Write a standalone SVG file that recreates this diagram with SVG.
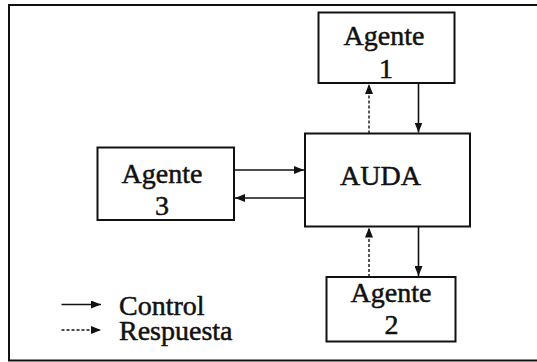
<svg xmlns="http://www.w3.org/2000/svg" width="537" height="362" viewBox="0 0 537 362">
  <style>
    .frame { fill: none; stroke: #111; stroke-width: 2; }
    .box { fill: #fff; stroke: #111; stroke-width: 2; }
    .lbl { font-family: "Liberation Serif", "Times New Roman", serif; font-size: 28px; fill: #111; stroke: #111; stroke-width: 0.5; text-anchor: middle; }
    .leg { font-family: "Liberation Serif", "Times New Roman", serif; font-size: 28px; fill: #111; stroke: #111; stroke-width: 0.5; }
    .ctl { stroke: #111; stroke-width: 1.6; fill: none; marker-end: url(#head); }
    .rsp { stroke: #111; stroke-width: 1.4; fill: none; stroke-dasharray: 3 2; marker-end: url(#head); }
  </style>
  <defs>
    <marker id="head" viewBox="0 0 10 8" refX="10" refY="4" markerWidth="10" markerHeight="8" markerUnits="userSpaceOnUse" orient="auto">
      <path d="M0,0 L10,4 L0,8 Z" fill="#111"/>
    </marker>
  </defs>
  <rect width="537" height="362" fill="#fff"/>

  <!-- outer frame (open on the right) -->
  <path class="frame" d="M537,5 H9 V360.5 H537"/>

  <g id="agente1">
    <rect class="box" x="318.5" y="12.5" width="136" height="70.5"/>
    <text class="lbl" x="384" y="45">Agente</text>
    <text class="lbl" x="386" y="78">1</text>
  </g>

  <g id="auda">
    <rect class="box" x="305" y="133.5" width="165" height="93"/>
    <text class="lbl" x="380.5" y="184.5">AUDA</text>
  </g>

  <g id="agente3">
    <rect class="box" x="97.5" y="147.5" width="136.5" height="72.5"/>
    <text class="lbl" x="162" y="182.5">Agente</text>
    <text class="lbl" x="162" y="215">3</text>
  </g>

  <g id="agente2">
    <rect class="box" x="326.5" y="277" width="129" height="64.5"/>
    <text class="lbl" x="391" y="301.5">Agente</text>
    <text class="lbl" x="391.5" y="333.5">2</text>
  </g>

  <g id="connectors">
    <!-- AUDA <-> Agente 1 -->
    <line class="rsp" x1="369" y1="133.5" x2="369" y2="84"/>
    <line class="ctl" x1="418.5" y1="83" x2="418.5" y2="132.5"/>
    <!-- Agente 3 <-> AUDA -->
    <line class="ctl" x1="234" y1="170" x2="304" y2="170"/>
    <line class="ctl" x1="305" y1="198" x2="235" y2="198"/>
    <!-- Agente 2 <-> AUDA -->
    <line class="rsp" x1="369" y1="277" x2="369" y2="227.5"/>
    <line class="ctl" x1="418.5" y1="226.5" x2="418.5" y2="276"/>
  </g>

  <g id="legend">
    <line class="ctl" x1="61.5" y1="304.5" x2="101" y2="304.5"/>
    <text class="leg" x="119" y="315">Control</text>
    <line class="rsp" x1="61.5" y1="330" x2="101" y2="330"/>
    <text class="leg" x="119" y="340">Respuesta</text>
  </g>
</svg>
